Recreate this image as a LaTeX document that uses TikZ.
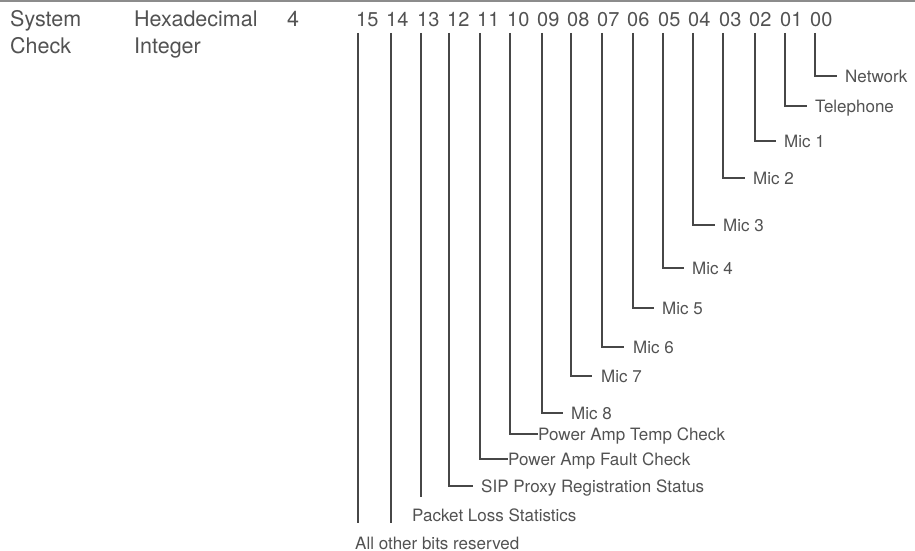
\documentclass[tikz,border=0pt]{standalone}
\usepackage{fontspec}
\setmainfont{TeX Gyre Heros}
\begin{document}
\begin{tikzpicture}[x=1pt,y=-1pt,
  wire/.style={draw=black!72,line width=1.9pt},
  head/.style={text=black!68,font=\fontsize{21.5}{26}\selectfont,anchor=base west,inner sep=0pt,align=left},
  num/.style={text=black!68,font=\fontsize{20}{24}\selectfont,anchor=base west,inner sep=0pt},
  lab/.style={text=black!68,font=\fontsize{17}{20}\selectfont,anchor=west,inner sep=0pt,text height=12pt,text depth=0pt}]
\useasboundingbox (0,0) rectangle (915,551);
\fill[black!45] (0,0) rectangle (915,2);
% header
\node[head] (h1) at (10,27) {System};
\node[head] (h2) at (10,53) {Check};
\node[head] (h3) at (134,27) {Hexadecimal};
\node[head] (h4) at (134,53) {Integer};
\node[head] (h5) at (287,27) {4};
% bit numbers and line tops
\foreach \b/\nx/\lx in {15/356/358,14/386/391,13/417/421,12/447/449,11/477/480,10/507/510,09/537/542,08/567/571,07/597/602,06/627/633,05/658/663,04/688/693,03/719/723,02/749/755,01/780/785,00/810/815}{
  \node[num] (n\b) at (\nx,27) {\b};
  \coordinate (t\b) at (\lx,33);
}
% labels
\node[lab] (l00) at (845,76) {Network};
\node[lab] (l01) at (815,106) {Telephone};
\node[lab] (l02) at (784,141) {Mic 1};
\node[lab] (l03) at (753,178) {Mic 2};
\node[lab] (l04) at (723,225) {Mic 3};
\node[lab] (l05) at (692,268) {Mic 4};
\node[lab] (l06) at (662,308) {Mic 5};
\node[lab] (l07) at (633,347) {Mic 6};
\node[lab] (l08) at (601,376) {Mic 7};
\node[lab] (l09) at (571,413) {Mic 8};
\node[lab] (l10) at (538,434) {Power Amp Temp Check};
\node[lab] (l11) at (508,459) {Power Amp Fault Check};
\node[lab] (l12) at (481,486) {SIP Proxy Registration Status};
\node[lab] (l13) at (412,515) {Packet Loss Statistics};
\node[lab] (l15) at (355,543) {All other bits reserved};
% connectors
\foreach \b/\g in {00/8pt,01/8pt,02/8pt,03/8pt,04/8pt,05/8pt,06/8pt,07/9pt,08/9pt,09/8pt,12/8pt}{
  \draw[wire] (t\b) |- ([xshift=-\g]l\b.west);
}
\draw[wire] (t10) |- ([xshift=-0.5pt]l10.west);
\draw[wire] (t11) |- ([xshift=-0.5pt]l11.west);
\coordinate (e13) at (421,497);
\coordinate (e14) at (391,523);
\coordinate (e15) at (358,523);
\draw[wire] (t13) -- (t13 |- e13);
\draw[wire] (t14) -- (e14);
\draw[wire] (t15) -- (e15);
\end{tikzpicture}
\end{document}
